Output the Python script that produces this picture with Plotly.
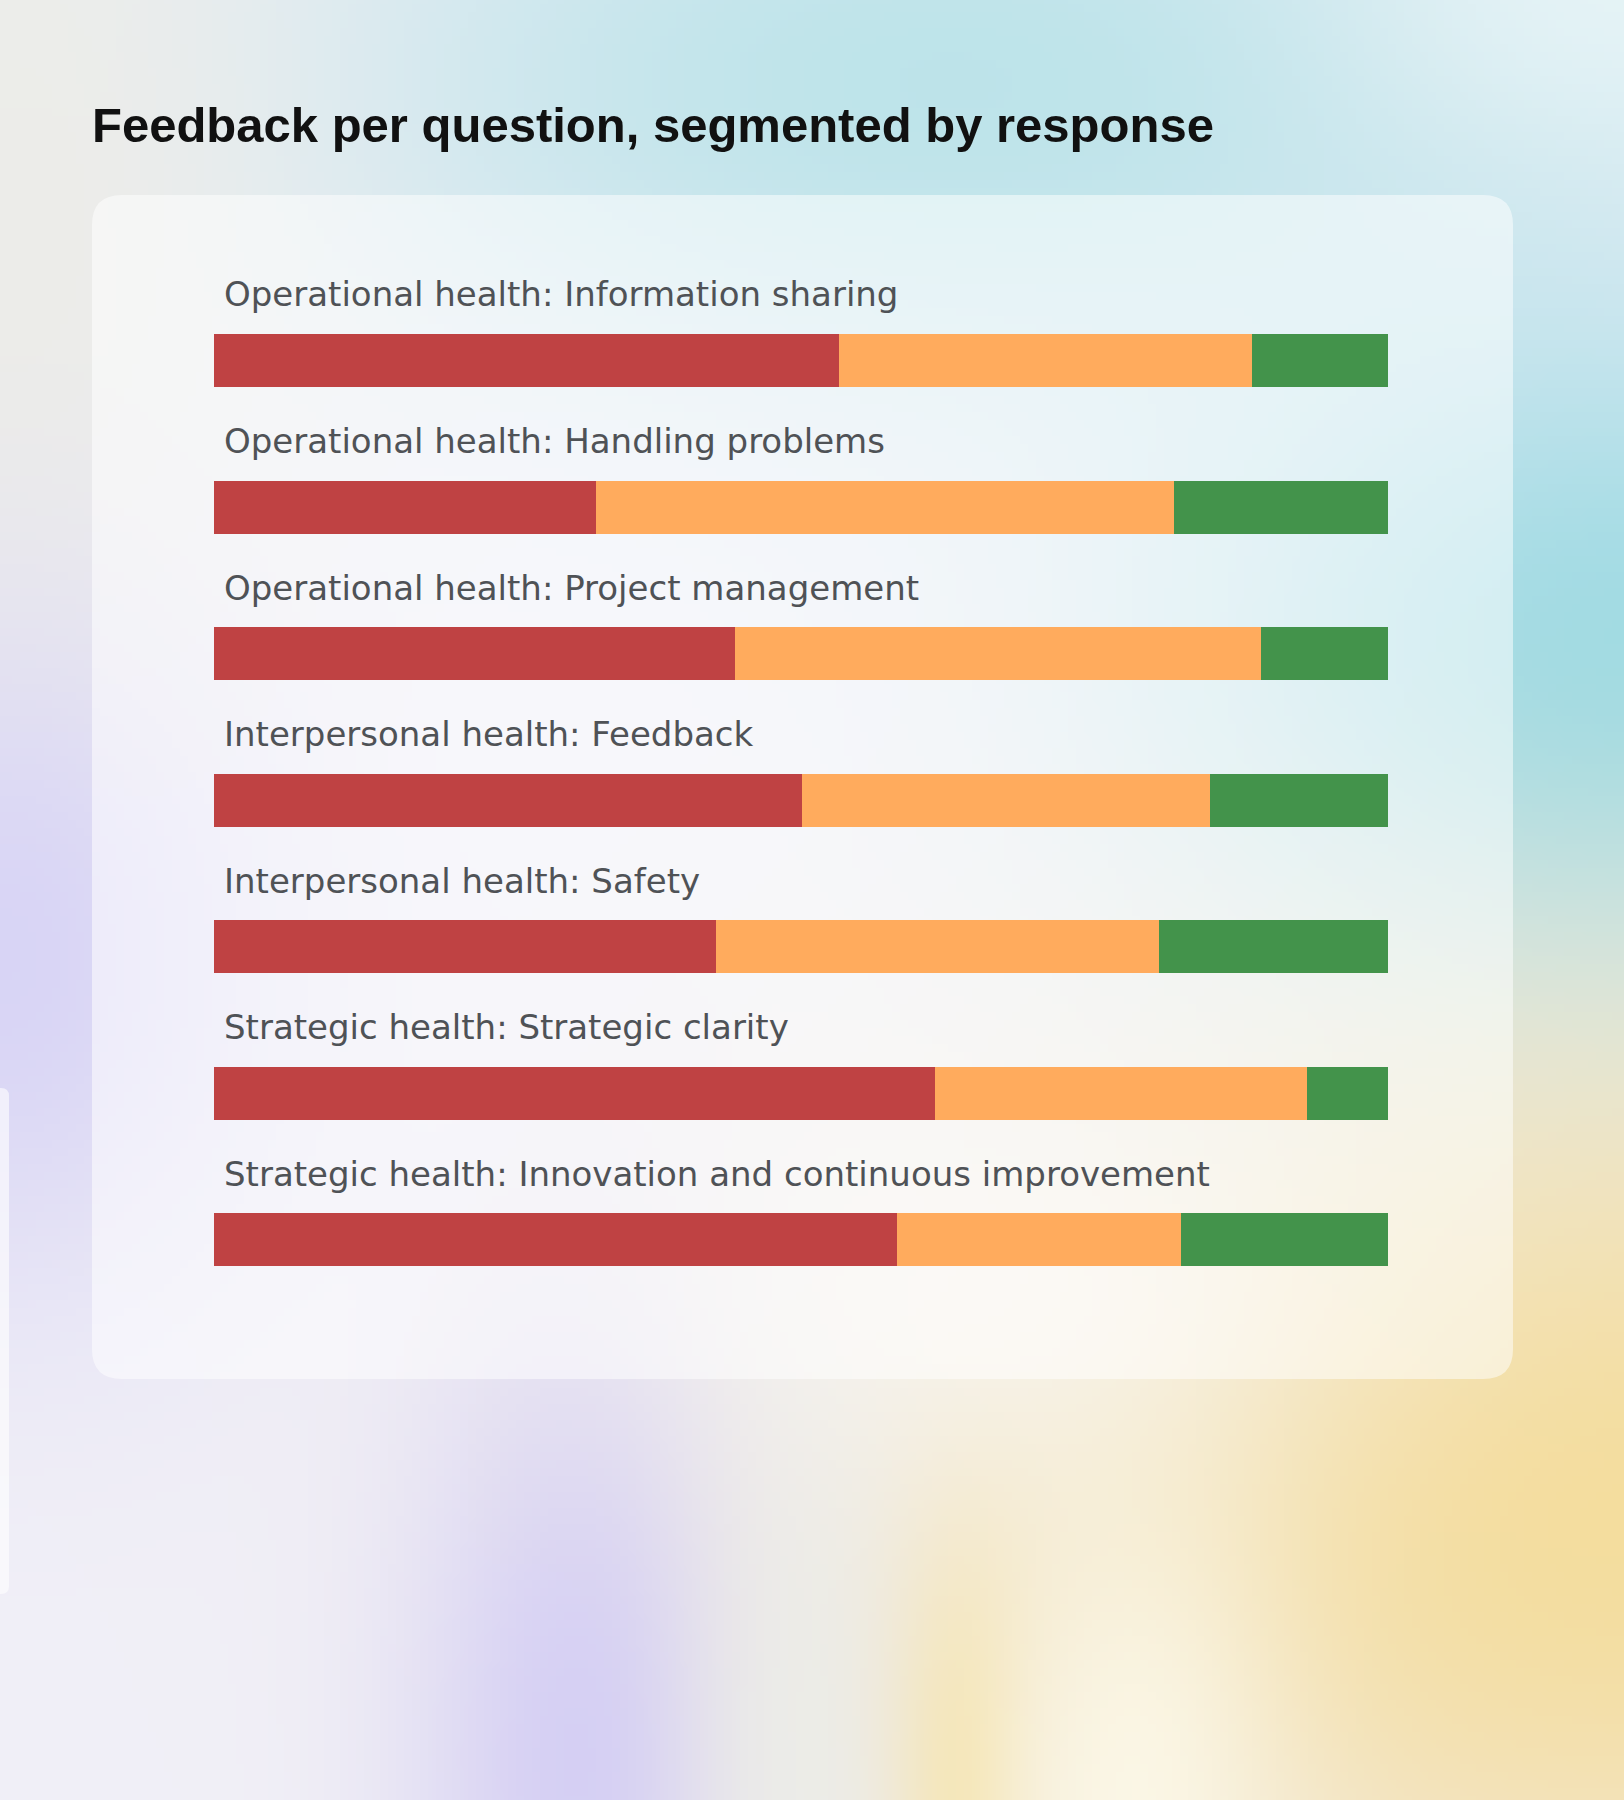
import base64
import struct
import zlib

import numpy as np
import plotly.graph_objects as go

# ---------------------------------------------------------------------------
# data (share of responses per question, %)
# ---------------------------------------------------------------------------
questions = [
    "Operational health: Information sharing",
    "Operational health: Handling problems",
    "Operational health: Project management",
    "Interpersonal health: Feedback",
    "Interpersonal health: Safety",
    "Strategic health: Strategic clarity",
    "Strategic health: Innovation and continuous improvement",
]
negative = [53.2, 32.5, 44.4, 50.1, 42.8, 61.4, 58.2]
neutral = [35.2, 49.3, 44.8, 34.7, 37.7, 31.7, 24.2]
positive = [11.6, 18.2, 10.8, 15.2, 19.5, 6.9, 17.6]

W, H = 1624, 1800


def px(x, y):
    """pixel position -> paper coords"""
    return x / W, 1 - y / H


# ---------------------------------------------------------------------------
# soft gradient background, rendered as a small png and stretched
# ---------------------------------------------------------------------------
def make_background(w=203, h=225):
    xs = (np.arange(w) + 0.5) * W / w
    ys = (np.arange(h) + 0.5) * H / h
    gx, gy = np.meshgrid(xs, ys)
    img = np.ones((h, w, 3)) * np.array([241, 240, 248], float)
    blobs = [
        # cx, cy, rx, ry, colour, strength
        (950, 80, 700, 320, (190, 228, 234), 1.0),
        (0, 250, 300, 650, (237, 237, 233), 1.0),
        (1624, 0, 260, 180, (232, 245, 247), 0.9),
        (1624, 650, 480, 350, (160, 219, 229), 1.0),
        (0, 960, 270, 340, (214, 210, 246), 0.9),
        (1624, 1520, 700, 480, (244, 221, 158), 1.0),
        (580, 1760, 170, 450, (212, 206, 244), 0.95),
        (800, 1750, 100, 350, (236, 237, 232), 0.85),
        (970, 1800, 70, 260, (244, 225, 165), 0.85),
        (1135, 1790, 150, 300, (252, 248, 232), 0.9),
        (1000, 1300, 330, 200, (250, 250, 248), 0.6),
    ]
    for cx, cy, rx, ry, col, s in blobs:
        wgt = s * np.exp(-((gx - cx) / rx) ** 2 - ((gy - cy) / ry) ** 2)
        img = img * (1 - wgt[..., None]) + np.array(col, float) * wgt[..., None]
    img = np.clip(img, 0, 255).astype(np.uint8)
    raw = b"".join(b"\x00" + img[r].tobytes() for r in range(h))

    def chunk(tag, data):
        return (struct.pack(">I", len(data)) + tag + data
                + struct.pack(">I", zlib.crc32(tag + data) & 0xffffffff))

    png = (b"\x89PNG\r\n\x1a\n"
           + chunk(b"IHDR", struct.pack(">IIBBBBB", w, h, 8, 2, 0, 0, 0))
           + chunk(b"IDAT", zlib.compress(raw, 9))
           + chunk(b"IEND", b""))
    return "data:image/png;base64," + base64.b64encode(png).decode()


def rounded_rect(x0, y0, x1, y1, r):
    """rounded rectangle path in paper coords, input in pixels"""
    def p(x, y):
        a, b = px(x, y)
        return f"{a:.5f},{b:.5f}"
    pts = [
        f"M{p(x0 + r, y0)}",
        f"L{p(x1 - r, y0)}",
        f"Q{p(x1, y0)} {p(x1, y0 + r)}",
        f"L{p(x1, y1 - r)}",
        f"Q{p(x1, y1)} {p(x1 - r, y1)}",
        f"L{p(x0 + r, y1)}",
        f"Q{p(x0, y1)} {p(x0, y1 - r)}",
        f"L{p(x0, y0 + r)}",
        f"Q{p(x0, y0)} {p(x0 + r, y0)}",
    ]
    return " ".join(pts) + " Z"


# ---------------------------------------------------------------------------
# figure
# ---------------------------------------------------------------------------
fig = go.Figure()

series = [
    ("Negative", negative, "#bf4243"),
    ("Neutral", neutral, "#ffab5d"),
    ("Positive", positive, "#43934b"),
]
for name, vals, color in series:
    fig.add_trace(go.Bar(
        x=vals,
        y=questions,
        orientation="h",
        name=name,
        marker=dict(color=color, line=dict(width=0)),
        hovertemplate="%{y}<br>" + name + ": %{x:.1f}%<extra></extra>",
    ))

# question labels above each bar
for q in questions:
    fig.add_annotation(
        x=0, y=q, xref="x", yref="y",
        text=q, showarrow=False,
        xanchor="left", yanchor="middle",
        xshift=8, yshift=66,
        font=dict(family="DejaVu Sans", size=34, color="#4f5256"),
    )

x0d, _ = px(214, 0)
x1d, _ = px(1388, 0)
_, y_top = px(0, 287.25)
_, y_bot = px(0, 1312.75)

fig.update_layout(
    width=W,
    height=H,
    margin=dict(l=0, r=0, t=0, b=0),
    paper_bgcolor="#f1f0f7",
    plot_bgcolor="rgba(0,0,0,0)",
    barmode="stack",
    bargap=1 - 53 / 146.5,
    showlegend=False,
    title=dict(
        text="Feedback per question, segmented by response",
        x=92 / W, xanchor="left", xref="paper",
        y=1 - 124.5 / H, yanchor="middle", yref="paper",
        font=dict(family="Liberation Sans", size=49, color="#111111", weight="bold"),
    ),
    xaxis=dict(domain=[x0d, x1d], range=[0, 100], visible=False, fixedrange=True),
    yaxis=dict(domain=[y_bot, y_top], categoryorder="array", categoryarray=questions,
               range=[len(questions) - 0.5, -0.5], autorange=False,
               visible=False, fixedrange=True),
    images=[dict(
        source=make_background(),
        xref="paper", yref="paper", x=0, y=1, sizex=1, sizey=1,
        xanchor="left", yanchor="top", sizing="stretch", layer="below",
    )],
    shapes=[
        dict(type="path", xref="paper", yref="paper", layer="below",
             path=rounded_rect(92, 195, 1513, 1379, 30),
             fillcolor="rgba(255,255,255,0.52)", line=dict(width=0)),
        dict(type="path", xref="paper", yref="paper", layer="below",
             path=rounded_rect(-20, 1088, 9, 1594, 8),
             fillcolor="rgba(255,255,255,0.6)", line=dict(width=0)),
    ],
)

# the page body has a default 8px margin; drop it so the figure fills the window
fig.write_html("out.html", config={"displayModeBar": False},
               post_script="document.body.style.margin='0';")
